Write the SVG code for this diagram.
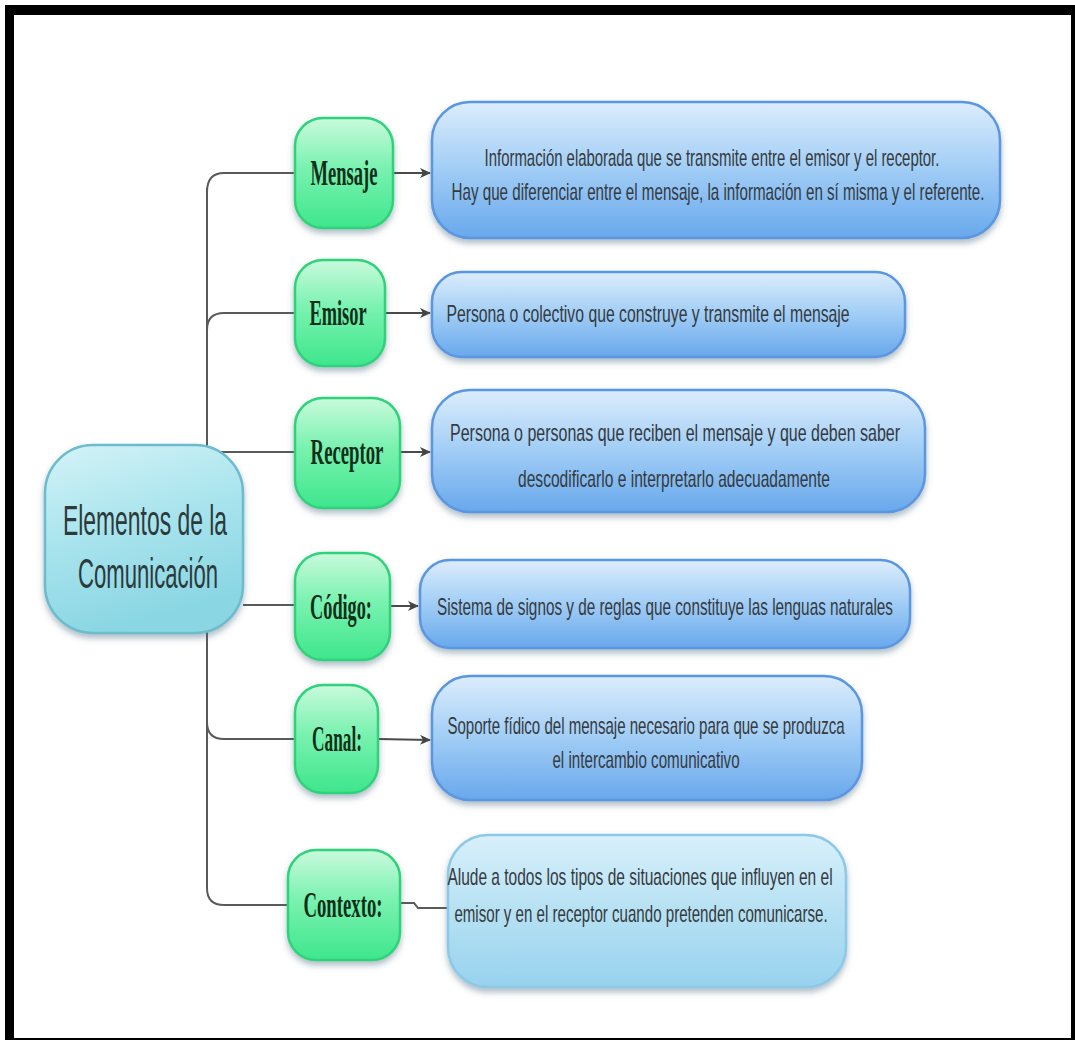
<svg xmlns="http://www.w3.org/2000/svg" width="1075" height="1040" viewBox="0 0 1075 1040">
<defs>
  <linearGradient id="gGreen" x1="0" y1="0" x2="0" y2="1">
    <stop offset="0" stop-color="#c9fadc"/>
    <stop offset="0.45" stop-color="#7af2b0"/>
    <stop offset="1" stop-color="#3ee68c"/>
  </linearGradient>
  <linearGradient id="gCentral" x1="0" y1="0" x2="0.3" y2="1">
    <stop offset="0" stop-color="#d4f3f7"/>
    <stop offset="0.5" stop-color="#a9e4ed"/>
    <stop offset="1" stop-color="#8ad6e3"/>
  </linearGradient>
  <linearGradient id="gBlue" x1="0" y1="0" x2="0" y2="1">
    <stop offset="0" stop-color="#dcedfc"/>
    <stop offset="0.45" stop-color="#a6d0f6"/>
    <stop offset="1" stop-color="#68a8ec"/>
  </linearGradient>
  <linearGradient id="gLight" x1="0" y1="0" x2="0" y2="1">
    <stop offset="0" stop-color="#d8f0fb"/>
    <stop offset="0.5" stop-color="#b6e1f3"/>
    <stop offset="1" stop-color="#98d2ee"/>
  </linearGradient>
  <filter id="shadow" x="-10%" y="-10%" width="120%" height="130%">
    <feDropShadow dx="0" dy="4" stdDeviation="3" flood-color="#4a6a80" flood-opacity="0.45"/>
  </filter>
  <marker id="arrow" markerUnits="userSpaceOnUse" markerWidth="12" markerHeight="10" refX="10" refY="5" orient="auto">
    <path d="M0,0 L11,5 L0,10 L3,5 z" fill="#444"/>
  </marker>
</defs>
<style>
  .conn { fill: none; stroke: #5a5a5a; stroke-width: 2; }
  .arr { fill: none; stroke: #4a4a4a; stroke-width: 2; marker-end: url(#arrow); }
  .green { fill: url(#gGreen); stroke: #2fd27a; stroke-width: 2.5; filter: url(#shadow); }
  .central { fill: url(#gCentral); stroke: #6cbccd; stroke-width: 2.5; filter: url(#shadow); }
  .blue { fill: url(#gBlue); stroke: #5a96e2; stroke-width: 2.5; filter: url(#shadow); }
  .light { fill: url(#gLight); stroke: #8cc8e8; stroke-width: 2.5; filter: url(#shadow); }
  .lbl { font-family: "Liberation Serif", "DejaVu Serif", serif; font-weight: bold; font-size: 36px; fill: #10301a; text-anchor: middle; }
  .desc { font-family: "Liberation Sans", Arial, sans-serif; font-size: 24px; fill: #353a40; text-anchor: middle; }
  .ctext { font-family: "Liberation Sans", Arial, sans-serif; font-size: 42px; fill: #2c3a3c; text-anchor: middle; }
</style>

<rect x="5" y="5" width="1070" height="1035" fill="#000"/>
<rect x="14" y="15" width="1057" height="1023" fill="#fff"/>

<g id="connectors">
  <path class="conn" d="M207,188 L207,888"/>
  <path class="conn" d="M207,192 Q207,173 224,173 L296,173"/>
  <path class="conn" d="M207,330 Q207,313 224,313 L296,313"/>
  <path class="conn" d="M220,452 L296,452"/>
  <path class="conn" d="M243,605 L296,605"/>
  <path class="conn" d="M207,722 Q207,739 224,739 L296,739"/>
  <path class="conn" d="M207,888 Q207,905 224,905 L290,905"/>
  <path class="arr" d="M393,173 L430,173"/>
  <path class="arr" d="M385,313 L430,313"/>
  <path class="arr" d="M400,452 L430,452"/>
  <path class="arr" d="M390,606 L418,606"/>
  <path class="arr" d="M378,739 L430,740"/>
  <path class="conn" d="M400,903 L414,903 L418,908 L448,908"/>
</g>

<g id="node-central">
  <rect class="central" x="45" y="445" width="198" height="188" rx="48"/>
  <text class="ctext" transform="translate(145,535) scale(0.56,1)" textLength="293" lengthAdjust="spacingAndGlyphs">Elementos de la</text>
  <text class="ctext" transform="translate(148,588) scale(0.56,1)" textLength="250" lengthAdjust="spacingAndGlyphs">Comunicación</text>
</g>

<g id="node-mensaje">
  <rect class="green" x="295" y="118" width="98" height="110" rx="28"/>
  <text class="lbl" transform="translate(344,185) scale(0.52,1)" textLength="129" lengthAdjust="spacingAndGlyphs">Mensaje</text>
</g>
<g id="node-emisor">
  <rect class="green" x="295" y="260" width="90" height="106" rx="28"/>
  <text class="lbl" transform="translate(338,325) scale(0.52,1)" textLength="110" lengthAdjust="spacingAndGlyphs">Emisor</text>
</g>
<g id="node-receptor">
  <rect class="green" x="295" y="398" width="105" height="110" rx="28"/>
  <text class="lbl" transform="translate(347,464) scale(0.52,1)" textLength="140" lengthAdjust="spacingAndGlyphs">Receptor</text>
</g>
<g id="node-codigo">
  <rect class="green" x="295" y="553" width="95" height="107" rx="28"/>
  <text class="lbl" transform="translate(341,619) scale(0.52,1)" textLength="119" lengthAdjust="spacingAndGlyphs">Código:</text>
</g>
<g id="node-canal">
  <rect class="green" x="295" y="685" width="83" height="108" rx="28"/>
  <text class="lbl" transform="translate(337,751) scale(0.52,1)" textLength="96" lengthAdjust="spacingAndGlyphs">Canal:</text>
</g>
<g id="node-contexto">
  <rect class="green" x="288" y="850" width="112" height="110" rx="28"/>
  <text class="lbl" transform="translate(343,917) scale(0.52,1)" textLength="152" lengthAdjust="spacingAndGlyphs">Contexto:</text>
</g>

<g id="desc-mensaje">
  <rect class="blue" x="432" y="102" width="568" height="136" rx="38"/>
  <text class="desc" transform="translate(712,166) scale(0.6,1)" textLength="758" lengthAdjust="spacingAndGlyphs">Información elaborada que se transmite entre el emisor y el receptor.</text>
  <text class="desc" transform="translate(718,200) scale(0.6,1)" textLength="888" lengthAdjust="spacingAndGlyphs">Hay que diferenciar entre el mensaje, la información en sí misma y el referente.</text>
</g>
<g id="desc-emisor">
  <rect class="blue" x="432" y="272" width="473" height="85" rx="30"/>
  <text class="desc" transform="translate(648,322) scale(0.6,1)" textLength="672" lengthAdjust="spacingAndGlyphs">Persona o colectivo que construye y transmite el mensaje</text>
</g>
<g id="desc-receptor">
  <rect class="blue" x="432" y="390" width="493" height="122" rx="38"/>
  <text class="desc" transform="translate(675,441) scale(0.6,1)" textLength="750" lengthAdjust="spacingAndGlyphs">Persona o personas que reciben el mensaje y que deben saber</text>
  <text class="desc" transform="translate(674,487) scale(0.6,1)" textLength="520" lengthAdjust="spacingAndGlyphs">descodificarlo e interpretarlo adecuadamente</text>
</g>
<g id="desc-codigo">
  <rect class="blue" x="420" y="560" width="490" height="88" rx="30"/>
  <text class="desc" transform="translate(665,615) scale(0.6,1)" textLength="760" lengthAdjust="spacingAndGlyphs">Sistema de signos y de reglas que constituye las lenguas naturales</text>
</g>
<g id="desc-canal">
  <rect class="blue" x="432" y="676" width="430" height="124" rx="38"/>
  <text class="desc" transform="translate(646,734) scale(0.6,1)" textLength="662" lengthAdjust="spacingAndGlyphs">Soporte fídico del mensaje necesario para que se produzca</text>
  <text class="desc" transform="translate(646,768) scale(0.6,1)" textLength="312" lengthAdjust="spacingAndGlyphs">el intercambio comunicativo</text>
</g>
<g id="desc-contexto">
  <rect class="light" x="448" y="835" width="398" height="152" rx="40"/>
  <text class="desc" transform="translate(640,885) scale(0.6,1)" textLength="642" lengthAdjust="spacingAndGlyphs">Alude a todos los tipos de situaciones que influyen  en el</text>
  <text class="desc" transform="translate(641,922) scale(0.6,1)" textLength="622" lengthAdjust="spacingAndGlyphs">emisor y en el receptor cuando pretenden comunicarse.</text>
</g>
</svg>
